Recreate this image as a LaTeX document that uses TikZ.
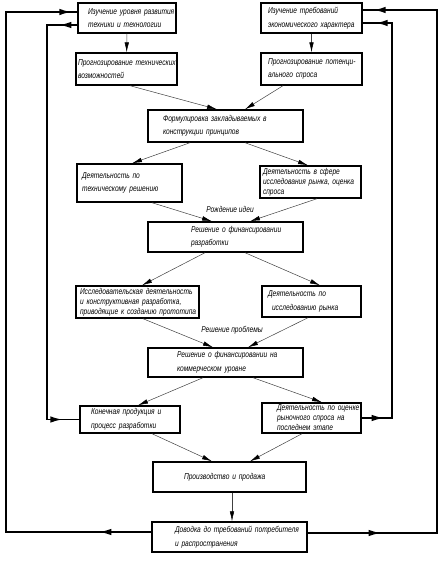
\documentclass[tikz,border=0pt]{standalone}
\usepackage{fontspec}
\setmainfont{Liberation Sans}
\newfontfamily\gost[FakeStretch=0.78]{Liberation Sans}
\usetikzlibrary{arrows.meta}
\newcommand\tline[2]{\hspace*{#1pt}\makebox[0pt][l]{#2}}
\begin{document}
\begin{tikzpicture}[x=1pt,y=-1pt,
  box/.style n args={2}{draw, line width=1.4pt, inner sep=0pt, text width=#1pt,
     minimum height=#2pt, align=left, font=\fontsize{8.5}{13.5}\gost\itshape},
  tight/.style={font=\fontsize{8.5}{10}\gost\itshape},
  lbl/.style={inner sep=0pt, font=\fontsize{8.5}{9}\gost\itshape},
  conn/.style={draw=black!75, line width=0.5pt, -{Latex[length=10pt,width=4.5pt,color=black]}},
  fb/.style={draw, line width=1.5pt},
  fbarrow/.style={draw, line width=1.5pt, -{Latex[length=12pt,width=6.5pt]}}
]
\useasboundingbox (0,0) rectangle (447,564);

\node[box={98}{30}]  (b1)  at (127,18)     {\tline{10}{Изучение уровня развития}\\\tline{10}{техники и технологии}};
\node[box={101}{30}] (b2)  at (311.5,18)   {\tline{7}{Изучение требований}\\\tline{7}{экономического характера}};
\node[box={101}{32}] (b3)  at (126.5,69)   {\tline{2}{Прогнозирование технических}\\\tline{2}{возможностей}};
\node[box={101}{32}] (b4)  at (311.5,69)   {\tline{7}{Прогнозирование потенци-}\\\tline{7}{ального спроса}};
\node[box={155}{32}] (b5)  at (225.5,126)  {\tline{15}{Формулировка закладываемых в}\\\tline{15}{конструкции принципов}};
\node[box={105}{38}] (b6)  at (129.5,183)  {\tline{5}{Деятельность по}\\\tline{5}{техническому решению}};
\node[box={101}{32},tight] (b7) at (310.5,182) {\tline{3}{Деятельность в сфере}\\\tline{3}{исследования рынка, оценка}\\\tline{3}{спроса}};
\node[lbl] (l1) at (230,209) {Рождение идеи};
\node[box={155}{30}] (b8)  at (225.5,237)  {\tline{43}{Решение о финансировании}\\\tline{43}{разработки}};
\node[box={123}{32},tight] (b9) at (137.5,302) {\tline{4}{Исследовательская деятельность}\\\tline{4}{и конструктивная разработка,}\\\tline{4}{приводящие к созданию прототипа}};
\node[box={99}{31}]  (b10) at (311.5,301.5) {\tline{6}{Деятельность по}\\\tline{10}{исследованию рынка}};
\node[lbl] (l2) at (232,330) {Решение проблемы};
\node[box={155}{29}] (b11) at (225.5,362.5) {\tline{29}{Решение о финансировании на}\\\tline{29}{коммерческом уровне}};
\node[box={100}{27}] (b12) at (130,419.5)  {\tline{11}{Конечная продукция и}\\\tline{11}{процесс разработки}};
\node[box={99}{30},tight] (b13) at (311.5,418) {\tline{15}{Деятельность по оценке}\\\tline{15}{рыночного спроса на}\\\tline{15}{последнем этапе}};
\node[box={153}{30}] (b14) at (229.5,477)  {\tline{31}{Производство и продажа}};
\node[box={155}{30}] (b15) at (229.5,537)  {\tline{23}{Доводка до требований потребителя}\\\tline{23}{и распространения}};

% vertical connectors
\draw[conn] (b1) -- (b3);
\draw[conn] (b2) -- (b4);
\draw[conn] ([xshift=2.5pt]b14.south) -- ([xshift=2.5pt]b15.north);

% diagonal connectors
\draw[conn] ([xshift=3.5pt]b3.south) -- ([xshift=-8.5pt]b5.north);
\draw[conn] ([xshift=-28.5pt]b4.south) -- ([xshift=19.5pt]b5.north);
\draw[conn] ([xshift=-35.5pt]b5.south) -- ([xshift=2.5pt]b6.north);
\draw[conn] ([xshift=19.5pt]b5.south) -- ([xshift=-2.5pt]b7.north);
\draw[conn] ([xshift=22.5pt]b6.south) -- ([xshift=-13.5pt]b8.north);
\draw[conn] ([xshift=6.5pt]b7.south) -- ([xshift=24.5pt]b8.north);
\draw[conn] ([xshift=-20.5pt]b8.south) -- ([xshift=4.5pt]b9.north);
\draw[conn] ([xshift=19.5pt]b8.south) -- ([xshift=8.5pt]b10.north);
\draw[conn] ([xshift=5.5pt]b9.south) -- ([xshift=-12.5pt]b11.north);
\draw[conn] ([xshift=-3.5pt]b10.south) -- ([xshift=22.5pt]b11.north);
\draw[conn] ([xshift=-22.5pt]b11.south) -- ([xshift=8pt]b12.north);
\draw[conn] ([xshift=27.5pt]b11.south) -- ([xshift=10.5pt]b13.north);
\draw[conn] ([xshift=22pt]b12.south) -- ([xshift=-17.5pt]b14.north);
\draw[conn] ([xshift=-9.5pt]b13.south) -- ([xshift=20.5pt]b14.north);

% feedback loops
\coordinate (olx) at (6,0);
\coordinate (ilx) at (47,0);
\coordinate (orx) at (437,0);
\coordinate (irx) at (392,0);
\coordinate (b1o) at ([yshift=6pt]b1.west);
\coordinate (b1i) at ([yshift=-7pt]b1.west);
\coordinate (b2o) at ([yshift=8pt]b2.east);
\coordinate (b2i) at ([yshift=-5pt]b2.east);
\coordinate (b15l) at ([yshift=5pt]b15.west);
\coordinate (b15r) at ([yshift=4pt]b15.east);

\draw[fb] (b15l) -| (olx |- b1o) -- (b1o);
\draw[fb] (b1i) -| (ilx |- b12.west) -- (b12.west);
\draw[fb] (b15r) -| (orx |- b2o) -- (b2o);
\draw[fb] (b13.east) -| (irx |- b2i) -- (b2i);

% arrowheads on feedback lines
\draw[fbarrow] (b15l) -- ([xshift=-52pt]b15l);
\draw[fbarrow] ([xshift=-30pt]b1o) -- ([xshift=-6pt]b1o);
\draw[fbarrow] ([xshift=-1pt]b1i) -- ([xshift=-18pt]b1i);
\draw[fbarrow] ([xshift=-30pt]b12.west) -- ([xshift=-17pt]b12.west);
\draw[fbarrow] (b15r) -- ([xshift=73pt]b15r);
\draw[fbarrow] ([xshift=30pt]b2o) -- ([xshift=11pt]b2o);
\draw[fbarrow] (b13.east) -- ([xshift=22pt]b13.east);
\draw[fbarrow] ([xshift=28pt]b2i) -- ([xshift=13pt]b2i);
\end{tikzpicture}
\end{document}
